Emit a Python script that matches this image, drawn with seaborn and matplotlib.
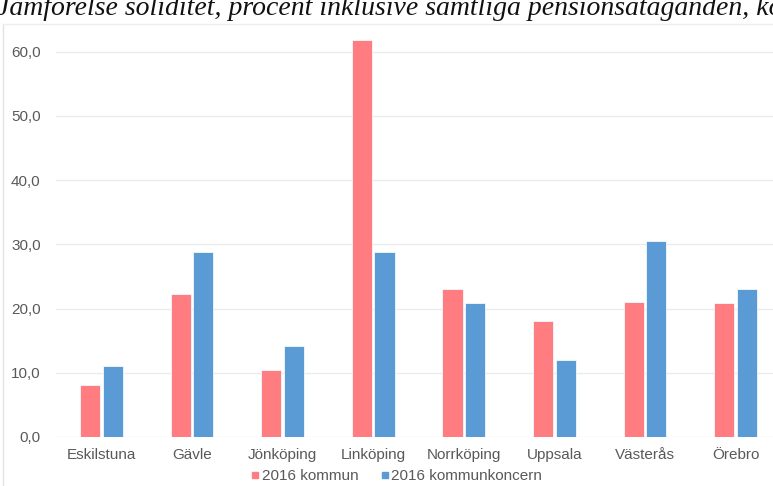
import pandas as pd
import matplotlib.pyplot as plt
import matplotlib.lines as mlines
import seaborn as sns
from matplotlib.ticker import FuncFormatter

# -----------------------------
# Data
# -----------------------------
cities = ["Eskilstuna", "Gävle", "Jönköping", "Linköping", "Norrköping",
          "Uppsala", "Västerås", "Örebro"]
kommun = [8.1, 22.3, 10.4, 61.8, 23.1, 18.1, 21.1, 20.8]
koncern = [11.1, 28.8, 14.2, 28.8, 20.8, 12.0, 30.6, 23.1]
series = ["2016 kommun", "2016 kommunkoncern"]
colors = ["#FF7C80", "#5B9BD5"]
yticks = [0, 10, 20, 30, 40, 50, 60]
title = "Jämförelse soliditet, procent inklusive samtliga pensionsåtaganden, kommun och kommunkoncern"

df = pd.DataFrame({
    "stad": cities * 2,
    "serie": [series[0]] * len(cities) + [series[1]] * len(cities),
    "varde": kommun + koncern,
})

# -----------------------------
# Plot
# -----------------------------
sns.set_style("white")
plt.rcParams["font.family"] = ["Liberation Sans", "DejaVu Sans"]

W, H = 773, 486
fig = plt.figure(figsize=(W / 100, H / 100), dpi=100)
ax = fig.add_axes([56 / W, 1 - 437 / H, (781 - 56) / W, 437 / H])

sns.barplot(data=df, x="stad", y="varde", hue="serie", order=cities,
            hue_order=series, palette=colors, width=0.5, gap=0.11,
            edgecolor="#f4f8fc", linewidth=0.6, saturation=1,
            legend=False, ax=ax, zorder=3)

ax.set_ylim(0, 437 / 6.42)
ax.set_xlim(-0.5, len(cities) - 0.5)
ax.set_yticks(yticks)
ax.yaxis.set_major_formatter(FuncFormatter(lambda v, _: f"{v:.1f}".replace(".", ",")))
ax.grid(axis="y", color="#ebebeb", linewidth=1, zorder=0)
ax.set_xlabel("")
ax.set_ylabel("")
for s in ax.spines.values():
    s.set_visible(False)
ax.tick_params(axis="both", length=0, labelsize=11, colors="#595959")
ax.tick_params(axis="x", pad=8)
ax.tick_params(axis="y", pad=11)
ax.set_facecolor("none")

# legend with small square markers
handles = [mlines.Line2D([], [], marker="s", linestyle="", markersize=5,
                         color=c) for c in colors]
fig.legend(handles, series, loc="center", bbox_to_anchor=(396 / W, 1 - 476 / H),
           ncol=2, frameon=False, fontsize=11, labelcolor="#595959",
           handletextpad=0.05, columnspacing=1.4, handlelength=0.7,
           borderpad=0)

# faint outer frame of the embedded chart
fig.add_artist(mlines.Line2D([3 / W, 3 / W], [0, 1 - 24 / H], color="#e3e3e3",
                             linewidth=1, transform=fig.transFigure))
fig.add_artist(mlines.Line2D([3 / W, 1], [1 - 24 / H, 1 - 24 / H], color="#eeeeee",
                             linewidth=1, transform=fig.transFigure))

# cropped caption above the chart (top of the line is cut in the reference)
fig.text(-3 / W, 1 - 15 / H, title, family=["Liberation Serif", "DejaVu Serif"],
         style="italic", fontsize=20, color="#111111", ha="left", va="baseline")

fig.savefig("out.png", dpi=100, facecolor="white")
